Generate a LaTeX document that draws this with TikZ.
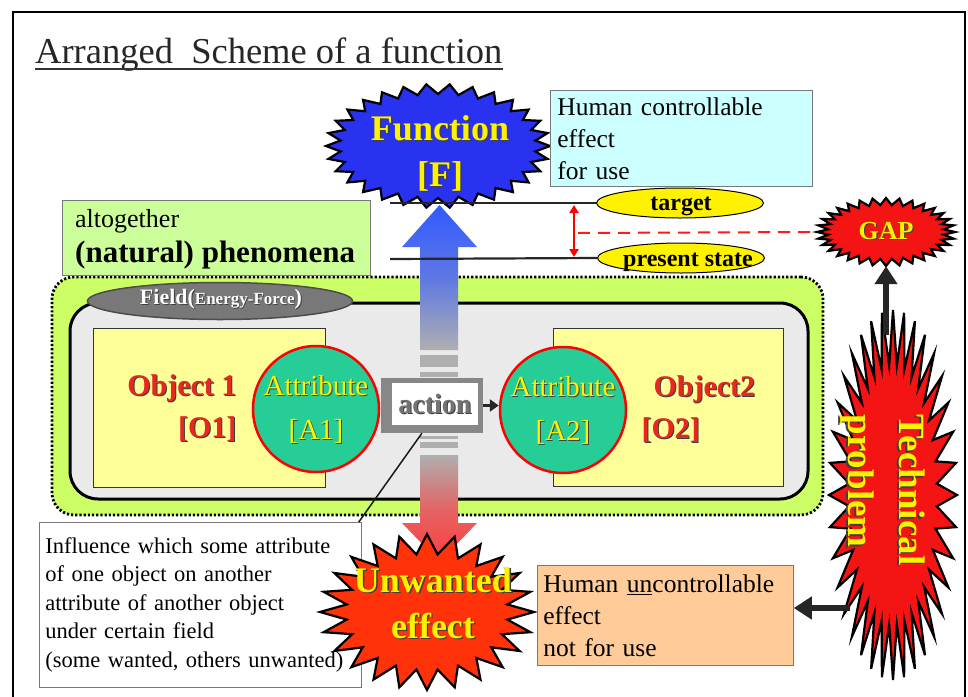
\documentclass[tikz,border=0pt]{standalone}
\usepackage{fontspec}
\setmainfont{Liberation Serif}
\usetikzlibrary{shapes.geometric,arrows.meta,calc}
\definecolor{funcblue}{RGB}{40,50,240}
\definecolor{cyanbox}{RGB}{204,255,255}
\definecolor{boxgray}{RGB}{120,120,120}
\definecolor{phengreen}{RGB}{204,255,153}
\definecolor{fieldgreen}{RGB}{204,255,102}
\definecolor{innergray}{RGB}{234,234,234}
\definecolor{fieldell}{RGB}{120,120,120}
\definecolor{objyellow}{RGB}{255,255,153}
\definecolor{attrteal}{RGB}{38,205,150}
\definecolor{burstred}{RGB}{245,20,20}
\definecolor{unwred}{RGB}{255,50,10}
\definecolor{orangebox}{RGB}{255,204,153}
\definecolor{objred}{RGB}{230,40,30}
\definecolor{arrowblue}{RGB}{50,90,255}
\definecolor{arrowgray}{RGB}{175,175,175}
\definecolor{arrowred}{RGB}{255,60,60}
\definecolor{actgray}{RGB}{135,135,135}
\newcommand\shd[3][1pt]{\leavevmode\rlap{\kern#1\raisebox{-#1}{\color{black!75}#3}}{\color{#2}#3}}
\newcommand\burst[8]{%
  \pgfmathtruncatemacro\bsamples{2*#8+1}%
  \path[#1] plot[domain=0:360, samples=\bsamples, variable=\ang]
    ({#2+(#4-#6*(1-cos(#8*\ang))/2)*cos(\ang)}, {#3+(#5-#7*(1-cos(#8*\ang))/2)*sin(\ang)}) -- cycle;}
\begin{document}
\begin{tikzpicture}[x=1pt,y=-1pt,
  infobox/.style={draw=boxgray, line width=0.8pt, inner ysep=0pt, align=left, anchor=north west},
  burststyle/.style={draw=black, line width=2.2pt, line join=miter},
  starlabel/.style={ellipse, inner sep=0pt, align=center},
  stateell/.style={ellipse, draw=black, fill=yellow, line width=1pt, minimum width=167pt, minimum height=30pt, inner sep=0pt},
  stateline/.style={line width=2.2pt, black!85},
  objbox/.style={draw=black!80, fill=objyellow, line width=1pt, inner sep=0pt},
  attrcircle/.style={circle, draw=red, line width=2.5pt, fill=attrteal, minimum size=126pt, inner sep=0pt},
  attrtext/.style={align=center, font=\fontsize{29}{44}\selectfont},
  objtext/.style={font=\bfseries\fontsize{30}{42}\selectfont},
  bigarrow/.style={line width=6pt, black!85, -{Triangle[length=18pt,width=22pt]}},
  stripe/.style={fill=arrowgray}
]
\useasboundingbox (0,0) rectangle (968,696);
\clip (0,0) rectangle (968,696);
\fill[white] (0,0) rectangle (968,696);
\draw[line width=1.6pt] (13,12) rectangle (965,720);

% title
\node[anchor=base west, font=\fontsize{36.5}{40}\selectfont, text=black!85, inner sep=0pt] (title) at (35,63) {Arranged\ \ Scheme of a function};
\draw[line width=1.5pt, black!80] ($(title.base west)+(0,6)$) -- ($(title.base east)+(0,6)$);

% field region
\node[draw=black, fill=fieldgreen, line width=2.8pt, dash pattern=on 2.2pt off 2pt, rounded corners=22pt, minimum width=771pt, minimum height=238pt, inner sep=0pt] (fieldbox) at (437.5,396) {};
\node[draw=black, fill=innergray, line width=3pt, rounded corners=28pt, minimum width=738pt, minimum height=196pt, inner sep=0pt] (inner) at (439,401) {};

% central vertical arrow
\shade[top color=arrowblue, bottom color=arrowgray, middle color=arrowblue!65!arrowgray] (420,350) -- (420,247) -- (402,247) -- (439.5,205) -- (477,247) -- (458,247) -- (458,350) -- cycle;
\fill[stripe] (420,355) rectangle (458,367);
\fill[stripe] (420,372) rectangle (458,377);
\fill[stripe] (420,436) rectangle (458,439);
\fill[stripe] (420,442) rectangle (458,448);
\shade[top color=arrowgray, bottom color=arrowred, middle color=arrowred!65!arrowgray] (420,455) -- (458,455) -- (458,523) -- (477,523) -- (439.5,562) -- (402,523) -- (420,523) -- cycle;

% field ellipse
\node[ellipse, fill=fieldell, draw=black!70, line width=1.5pt, minimum width=265pt, minimum height=37pt, inner sep=0pt] (fe) at (220,301) {};
\node[font=\bfseries\fontsize{22}{24}\selectfont, inner sep=0pt] (fet) at (221,300) {\shd{white}{Field(}{\fontsize{17}{18}\selectfont\shd[0.8pt]{white}{Energy-Force}}\shd{white}{)}};

% objects
\node[objbox, minimum width=232pt, minimum height=159pt] (o1) at (209,407.5) {};
\node[objbox, minimum width=230pt, minimum height=158pt] (o2) at (668,407) {};
\node[attrcircle] (a1) at (316,409) {};
\node[attrcircle] (a2) at (563,410) {};
\node[attrtext] (a1t) at (316,410) {\shd{yellow}{Attribute}\\\shd{yellow}{[A1]}};
\node[attrtext] (a2t) at (563,411) {\shd{yellow}{Attribute}\\\shd{yellow}{[A2]}};
\node[objtext, anchor=east, align=right] (o1t) at (240,409) {\shd{objred}{Object 1}\\\shd{objred}{[O1]}};
\node[objtext, anchor=west] (o2a) at (650,390) {\shd{objred}{Object2}};
\node[objtext, anchor=west] (o2b) at (638,431) {\shd{objred}{[O2]}};

% action
\node[fill=actgray, minimum width=102pt, minimum height=55pt, inner sep=0pt] (act) at (432,405.5) {};
\node[fill=white, minimum width=86pt, minimum height=42pt, inner sep=0pt, font=\bfseries\fontsize{28}{30}\selectfont] (actin) at (435,404) {\shd[1pt]{black!55}{action}};
\draw[line width=2.5pt, black!85, -{Triangle[length=9pt,width=12pt]}] (act.east) -- (act.east -| a2.west);

% phenomena box
\node[infobox, fill=phengreen, minimum width=308pt, minimum height=75pt, inner sep=0pt] (phen) at (62,200) {};
\node[anchor=base west, inner sep=0pt, font=\fontsize{26}{30}\selectfont] (phenA) at (75,227) {altogether};
\node[anchor=base west, inner sep=0pt, font=\bfseries\fontsize{31}{35}\selectfont] (phenB) at (75,262) {(natural) phenomena};

% function
\burst{burststyle, fill=funcblue}{438}{146}{112}{62}{14}{10}{30}
\node[starlabel, minimum width=224pt, minimum height=124pt, font=\bfseries\fontsize{36}{46}\selectfont] (fn) at (440,154) {\shd[1.3pt]{yellow}{Function}\\\shd[1.3pt]{yellow}{[F]}};
\node[infobox, fill=cyanbox, text width=248pt, inner xsep=7pt, minimum height=96pt, font=\fontsize{25.5}{32}\selectfont] (hc) at (550,90) {Human controllable\\effect\\for use};

% target / present state
\node[stateell] (tg) at (680,203) {};
\node[font=\bfseries\fontsize{24}{26}\selectfont, inner sep=0pt] (tgt) at (681,206) {target};
\node[stateell] (ps) at (681,258) {};
\node[font=\bfseries\fontsize{24}{26}\selectfont, inner sep=0pt] (pst) at (688,262) {present state};
\coordinate (tgL) at (390,203);
\coordinate (psL) at (390,259);
\draw[stateline] (tgL) -- (tg.west);
\draw[stateline] (psL) -- (ps.west);
\coordinate (gT) at (574,205);
\coordinate (gB) at (574,257);
\coordinate (gM) at (578,233);

% GAP
\burst{burststyle, fill=burstred}{886}{232}{69}{34}{11}{7}{32}
\node[starlabel, minimum width=138pt, minimum height=68pt, font=\bfseries\fontsize{26}{28}\selectfont] (gap) at (886,232) {\shd{yellow}{GAP}};
\draw[red, line width=2pt, {Triangle[length=8pt,width=9pt]}-{Triangle[length=8pt,width=9pt]}] (gT) -- (gB);
\draw[red!90, line width=2pt, dash pattern=on 12pt off 8pt] (gM) -- (gap.west);

% influence box
\node[infobox, fill=white, text width=310pt, inner xsep=6pt, minimum height=165pt, font=\fontsize{22.5}{28.5}\selectfont] (infl) at (39,522) {Influence which some attribute\\of one object on another\\attribute of another object\\under certain field\\(some wanted, others unwanted)};
\draw[line width=1.5pt, black!90] (act.250) -- ($(infl.north east)+(-3,0)$);

% unwanted effect
\burst{burststyle, fill=unwred}{427}{612}{107}{78}{26}{20}{24}
\node[starlabel, minimum width=214pt, minimum height=156pt, font=\bfseries\fontsize{36}{46}\selectfont] (uw) at (433,604) {\shd[1.3pt]{yellow}{Unwanted}\\\shd[1.3pt]{yellow}{effect}};
\node[infobox, fill=orangebox, text width=244pt, inner xsep=6pt, minimum height=100pt, font=\fontsize{25.5}{32}\selectfont] (ub) at (537,565) {Human \underline{un}controllable\\effect\\not for use};

% technical problem
\burst{burststyle, fill=burstred}{893}{495}{64}{185}{20}{55}{36}
\node[starlabel, rotate=-90, align=left, minimum width=370pt, minimum height=128pt, font=\bfseries\fontsize{37}{51}\selectfont] (tp) at (882,490) {\shd[1.3pt]{yellow}{Technical}\\\shd[1.3pt]{yellow}{problem}};
\coordinate (tpTop) at (886,335);
\coordinate (tpLeft) at (850,608);
\draw[bigarrow] (tpTop) -- (gap.south);
\draw[bigarrow] (tpLeft) -- (ub.east |- tpLeft);
\end{tikzpicture}
\end{document}
